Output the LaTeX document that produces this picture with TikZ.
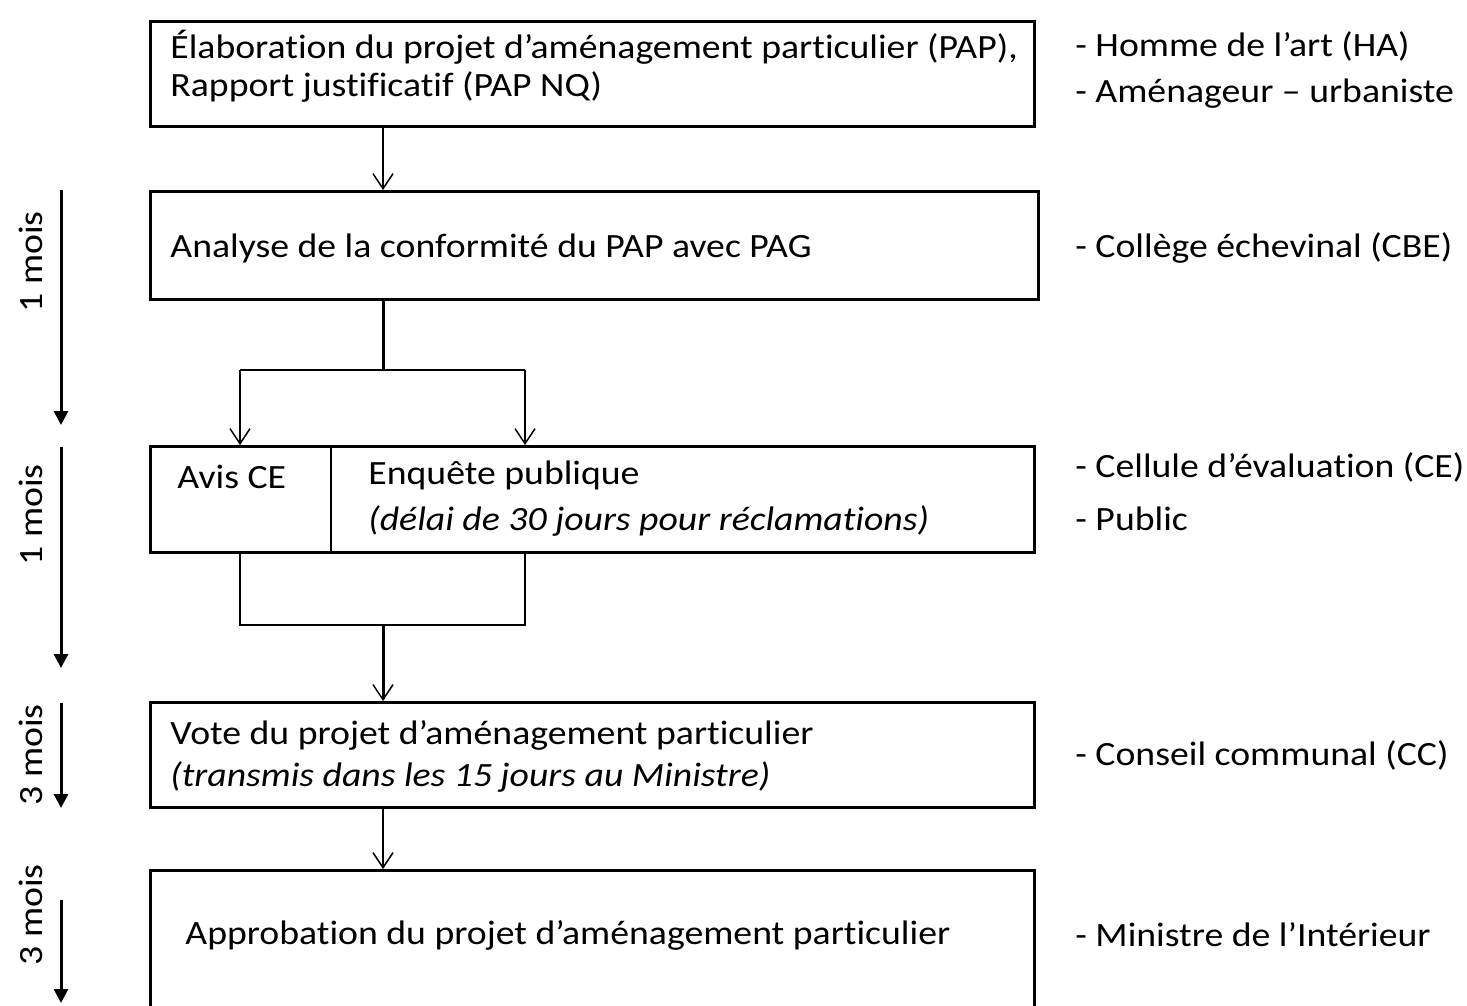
\documentclass[tikz,border=0pt]{standalone}
\usepackage{fontspec}
\setmainfont{Carlito}[FakeStretch=1.11, Ligatures=CommonOff]
\usetikzlibrary{arrows.meta}

\tikzset{
    etape/.style={draw, rectangle, line width=1.5pt, minimum width=442pt, anchor=north west, inner sep=0pt},
    texte/.style={anchor=west, align=left, inner sep=0pt},
    fleche/.style={line width=0.75pt, -{Straight Barb[length=7.5pt, width=10pt, line width=0.75pt]}},
    trait/.style={line width=0.75pt},
    gras/.style={line width=1.5pt},
    duree/.style={line width=1.5pt, -{Triangle[length=7pt, width=7pt]}},
}

\begin{document}
\begin{tikzpicture}[x=0.5pt, y=-0.5pt, every node/.style={font=\fontsize{17pt}{19pt}\selectfont}]
    \useasboundingbox (0,0) rectangle (1467,1006);

    % etapes
    \node[etape, minimum height=52.5pt] (b1) at (149,20) {};
    \node[etape, minimum height=54pt, minimum width=444pt] (b2) at (149,190) {};
    \node[etape, minimum height=53pt] (b3) at (149,445) {};
    \node[etape, minimum height=52.5pt] (b4) at (149,701) {};
    \node[etape, minimum height=70pt] (b5) at (149,869) {};

    \node[texte] (t1) at (170,66) {Élaboration du projet d’aménagement particulier (PAP),\\ Rapport justificatif (PAP NQ)};
    \node[texte] (t2) at (170,248) {Analyse de la conformité du PAP avec PAG};
    \node[texte] (t3a) at (177,477) {Avis CE};
    \node[texte] (t3b) at (368,499) {Enquête publique\\[4pt] \textit{(délai de 30 jours pour réclamations)}};
    \node[texte] (t4) at (170,756) {Vote du projet d’aménagement particulier\\[2pt] \textit{(transmis dans les 15 jours au Ministre)}};
    \node[texte] (t5) at (185,935) {Approbation du projet d’aménagement particulier};

    % acteurs
    \node[texte] (r1) at (1075,70) {- Homme de l’art (HA)\\[4pt] - Aménageur – urbaniste};
    \node[texte] (r2) at (1075,248) {- Collège échevinal (CBE)};
    \node[texte] (r3) at (1075,492) {- Cellule d’évaluation (CE)\\[7.5pt] - Public};
    \node[texte] (r4) at (1075,755) {- Conseil communal (CC)};
    \node[texte] (r5) at (1075,935) {- Ministre de l’Intérieur};

    % delais
    \node[rotate=90, inner sep=0pt] (m1) at (31,262) {1 mois};
    \node[rotate=90, inner sep=0pt] (m2) at (31,515) {1 mois};
    \node[rotate=90, inner sep=0pt] (m3) at (31,755) {3 mois};
    \node[rotate=90, inner sep=0pt] (m4) at (31,915) {3 mois};
    \draw[duree] (61,190) -- (61,425);
    \draw[duree] (61,447) -- (61,668);
    \draw[duree] (61,703) -- (61,808);
    \draw[duree] (61,900) -- (61,1003);

    % liaisons
    \coordinate (milieu) at (383,0);
    \coordinate (gauche) at (240,0);
    \coordinate (droite) at (525,0);
    \coordinate (cloison) at (331,0);
    \coordinate (fourche) at (383,370);
    \coordinate (jonction) at (383,625);

    \draw[trait] (b3.north -| cloison) -- (b3.south -| cloison);
    \draw[fleche] (b1.south -| milieu) -- (b2.north -| milieu);
    \draw[gras] (b2.south -| milieu) -- (fourche);
    \draw[trait] (fourche -| gauche) -- (fourche -| droite);
    \draw[fleche] (fourche -| gauche) -- (b3.north -| gauche);
    \draw[fleche] (fourche -| droite) -- (b3.north -| droite);
    \draw[trait] (b3.south -| gauche) |- (jonction) -| (b3.south -| droite);
    \draw[gras, -{Straight Barb[length=7.5pt, width=10pt, line width=0.75pt]}] (jonction) -- (b4.north -| milieu);
    \draw[fleche] (b4.south -| milieu) -- (b5.north -| milieu);
\end{tikzpicture}
\end{document}
